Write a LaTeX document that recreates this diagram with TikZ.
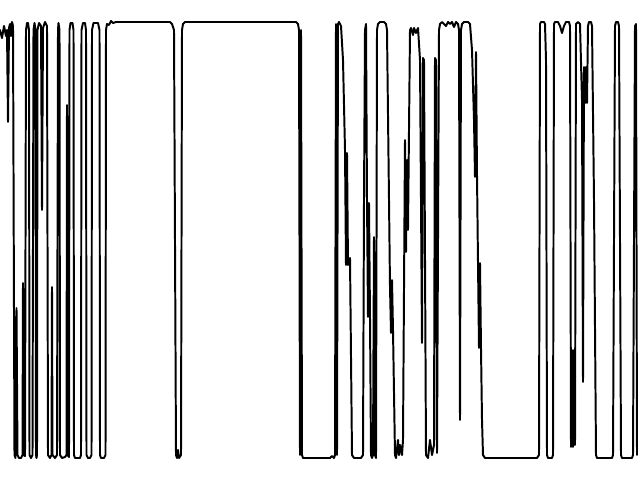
\documentclass[tikz,border=0pt]{standalone}

\begin{document}
\begin{tikzpicture}[x=0.025cm, y=-0.025cm]
  \tikzstyle{signal} = [line width = 1.4pt, line join = round, line cap = round]

  % Frame of the picture
  \useasboundingbox (0, 0) rectangle (640, 480);

  % Draw the trace
  \draw[signal] plot coordinates {
    (0,30) (2,38) (4,26) (6,36) (7,30) (8,122) (9,28) (10,24) (11,36) (12,22) (13,26)
    (14.5,455) (15.5,458) (16.5,308) (17.5,455) (19,458) (21,458) (22.5,455) (23,283)
    (23.5,455) (25,456) (26,30) (27,23) (28,23) (29,30) (29.5,455) (31,458) (32.5,455)
    (33.5,30) (34.5,23) (35.5,30) (36,455) (36.5,458) (37,455) (37.5,30) (39,23)
    (41,26) (42,210) (43,28) (45,22) (47,26) (48,455) (50,458) (51.5,455) (52,287)
    (52.5,455) (55,458) (57,455) (58,30) (58.5,23) (59.5,30) (60,455) (62,458)
    (65,457) (66.5,455) (67,105) (67.5,455) (69,457) (69.5,30) (70.5,23) (72.5,23)
    (73.5,30) (74,455) (75,458) (80,458) (81,455) (81.5,30) (83,23) (85,23) (86,30)
    (86.5,455) (88,458) (90,458) (91.5,455) (92,30) (93.5,23) (98,23) (99.5,30)
    (100,455) (101,458) (104,458) (105.5,455) (106,30) (107,24) (109,25) (111,21)
    (113,23) (116,22) (170,22) (172,24) (174,30) (176,455) (177,458) (178,450) (179,458)
    (181,455) (182,30) (183,24) (185,22) (296,22) (298,24) (299,30) (300,455) (301,30)
    (302,455) (303,458) (330,458) (332,456) (334,458) (335,455) (336,24) (337,455)
    (338,24) (339,22) (341,26) (343,60) (345,150) (346,265) (347,153) (348,265) (350,258)
    (352,455) (354,458) (361,458) (363,455) (364,200) (365,30) (366,24) (367,200)
    (368,317) (369,203) (370,317) (371,455) (372,458) (373,455) (374,237) (375,455)
    (376,458) (377,30) (378,24) (380,22) (384,22) (386,24) (387,30) (389,200) (390,287)
    (391,333) (392,280) (393,330) (395,455) (396,458) (398,440) (399,455) (400,445)
    (402,455) (403,440) (405,140) (406,252) (407,160) (408,230) (410,30) (411,28)
    (413,35) (414,28) (416,33) (418,28) (420,60) (421,200) (422,343) (423,58) (424,60)
    (426,455) (428,458) (430,440) (432,455) (434,445) (435,58) (436,60) (437,453)
    (439,30) (440,24) (442,22) (446,26) (448,22) (450,24) (452,22) (454,27) (456,22)
    (458,24) (459,30) (460,420) (461,30) (462,24) (464,22) (468,22) (470,24) (472,50)
    (474,120) (475,177) (476,52) (477,175) (478,263) (479,348) (480,263) (481,348)
    (482,420) (483,455) (485,458) (537,458) (539,455) (540,24) (541,22) (544,22)
    (545,24) (546,60) (547,455) (548,458) (552,458) (553,455) (554,24) (555,22) (558,22)
    (560,26) (562,33) (564,26) (566,22) (569,22) (570,26) (571,447) (572,350) (573,447)
    (574,350) (575,445) (576,24) (578,22) (580,24) (582,100) (583,382) (584,67) (585,103)
    (586,67) (587,103) (588,26) (589,22) (591,22) (592,26) (594,200) (596,455) (597,458)
    (612,458) (613,455) (615,26) (616,22) (618,22) (619,26) (621,455) (622,458)
    (632,458) (633,455) (635,26) (636,24) (637,455)
  };

\end{tikzpicture}
\end{document}
